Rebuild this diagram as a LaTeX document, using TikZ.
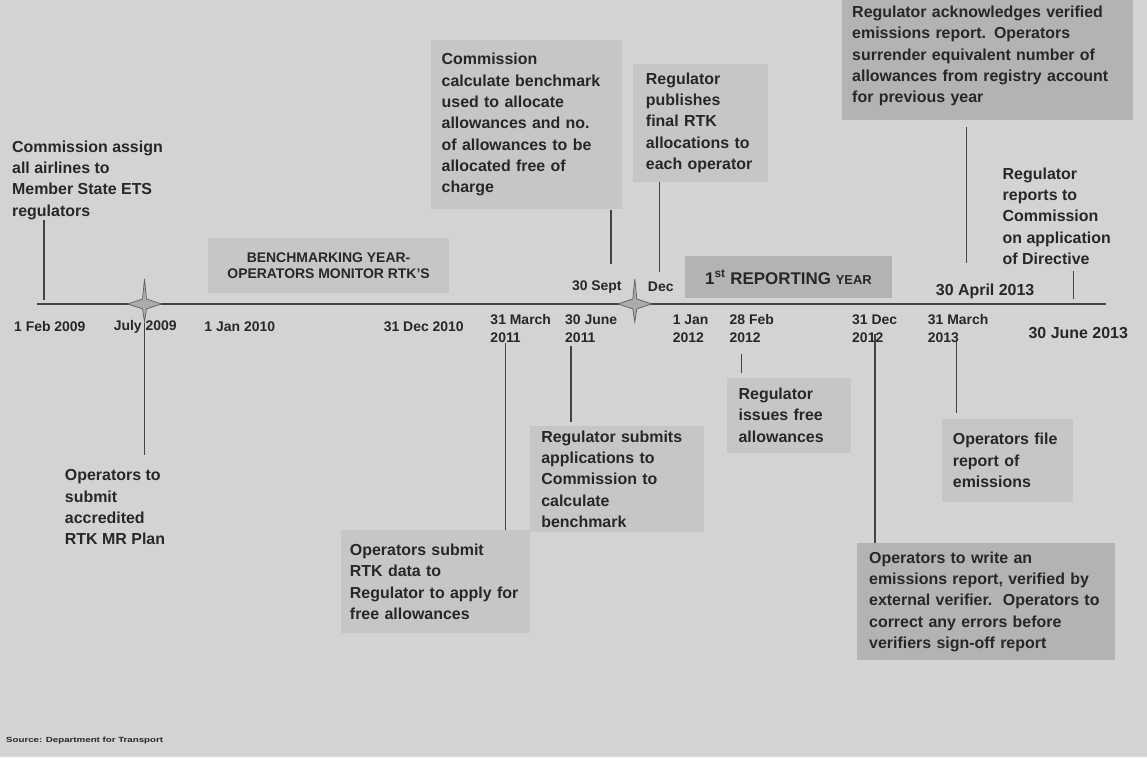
\documentclass[tikz,border=0pt]{standalone}
\usepackage{fontspec}
\setmainfont{Liberation Sans}
\definecolor{bgc}{HTML}{D3D3D1}
\definecolor{boxl}{HTML}{C6C6C4}
\definecolor{boxd}{HTML}{B3B3B1}
\definecolor{txt}{HTML}{272727}
\definecolor{lnc}{HTML}{434343}
\definecolor{starc}{HTML}{ABABA9}
\tikzset{
  fstar/.pic={\filldraw[fill=starc, draw=lnc!85, line width=0.7pt]
    (0,-25) -- (2,-5) -- (17,0) -- (2,5) -- (0,18) -- (-2,5) -- (-17,0) -- (-2,-5) -- cycle;}
}
\begin{document}
\begin{tikzpicture}[x=1pt,y=-1pt,
  every node/.style={text=txt},
  txtf/.style={font=\fontsize{16}{21.4}\selectfont\bfseries},
  evbox/.style={txtf, fill=boxl, anchor=north west, align=left, inner xsep=11pt, inner ysep=0pt},
  evboxd/.style={evbox, fill=boxd},
  plaintext/.style={txtf, anchor=north west, align=left, inner sep=0pt},
  datef/.style={font=\fontsize{14}{18}\selectfont\bfseries, align=left, inner sep=0pt, anchor=west},
  bigdate/.style={font=\fontsize{16}{19}\selectfont\bfseries, inner sep=0pt, anchor=west},
  conn/.style={draw=lnc, line width=1.4pt},
  tline/.style={draw=lnc, line width=2.6pt},
]
\fill[bgc] (-2,-2) rectangle (1149,758);
\useasboundingbox (0,0) rectangle (1147,756);

% timeline
\coordinate (tlA) at (35,303);
\coordinate (tlB) at (1108,303);
\draw[tline] (tlA) -- (tlB);

% period labels
\node[fill=boxl, anchor=north west, minimum width=241pt, minimum height=55pt, inner sep=0pt,
  align=center, font=\fontsize{14}{16}\selectfont\bfseries] (bench) at (207,237)
  {BENCHMARKING YEAR-\\OPERATORS MONITOR RTK'S};
\node[fill=boxd, anchor=north west, minimum width=208pt, minimum height=42pt, inner sep=0pt,
  font=\fontsize{17}{20}\selectfont\bfseries] (rep) at (685,255)
  {1\textsuperscript{st} REPORTING {\fontsize{13}{15}\selectfont YEAR}};

% event boxes
\node[evbox, text width=170pt, minimum height=170pt] (cc) at (430,38)
  {Commission\\calculate benchmark\\used to allocate\\allowances and no.\\of allowances to be\\allocated free of\\charge};
\node[evbox, inner xsep=13pt, text width=109pt, minimum height=118pt] (rp) at (633,62)
  {Regulator\\publishes\\final RTK\\allocations to\\each operator};
\node[evboxd, inner xsep=10pt, text width=272pt, minimum height=128pt] (ra) at (843,-10)
  {Regulator acknowledges verified\\emissions report. Operators\\surrender equivalent number of\\allowances from registry account\\for previous year};
\node[evbox, text width=152pt, minimum height=107pt] (rs) at (530,425)
  {Regulator submits\\applications to\\Commission to\\calculate\\benchmark};
\node[evbox, inner xsep=9pt, text width=172pt, minimum height=103pt] (ors) at (340,530)
  {Operators submit\\RTK data to\\Regulator to apply for\\free allowances};
\node[evbox, inner xsep=12pt, text width=101pt, minimum height=75pt] (rif) at (727,377)
  {Regulator\\issues free\\allowances};
\node[evbox, text width=110pt, minimum height=84pt] (ofr) at (943,418)
  {Operators file\\report of\\emissions};
\node[evboxd, inner xsep=12pt, text width=235pt, minimum height=117pt] (ow) at (858,543)
  {Operators to write an\\emissions report, verified by\\external verifier.\ \ Operators to\\correct any errors before\\verifiers sign-off report};

% plain texts
\node[plaintext] (caa) at (10,139)
  {Commission assign\\all airlines to\\Member State ETS\\regulators};
\node[plaintext] (ots) at (63,469)
  {Operators to\\submit\\accredited\\RTK MR Plan};
\node[plaintext] (rrc) at (1004,166)
  {Regulator\\reports to\\Commission\\on application\\of Directive};

% date labels
\node[datef] (d1) at (12,326) {1 Feb 2009};
\node[datef] (d2) at (112,326) {July 2009};
\node[datef] (d3) at (203,326) {1 Jan 2010};
\node[datef] (d4) at (383,326) {31 Dec 2010};
\node[datef] (d5) at (490,328) {31 March\\2011};
\node[datef] (d6) at (565,328) {30 June\\2011};
\node[datef, anchor=east] (d7) at (622,286) {30 Sept};
\node[datef] (d8) at (648,286) {Dec};
\node[datef] (d9) at (673,328) {1 Jan\\2012};
\node[datef] (d10) at (730,328) {28 Feb\\2012};
\node[datef] (d11) at (853,328) {31 Dec\\2012};
\node[datef] (d12) at (929,328) {31 March\\2013};
\node[bigdate] (d13) at (937,290) {30 April 2013};
\node[bigdate] (d14) at (1030,332) {30 June 2013};

% stars
\pic at (143,303) {fstar};
\pic at (635,303) {fstar};

% connectors
\coordinate (k1) at (42,299);
\draw[conn] (caa.south -| k1) -- (k1);
\coordinate (k2a) at (143,322);
\coordinate (k2b) at (143,455);
\draw[conn] (k2a) -- (k2b);
\coordinate (k3) at (505,342);
\draw[conn] (k3) -- (ors.north -| k3);
\coordinate (k4) at (571,345);
\draw[conn, shorten >=4pt] (k4) -- (rs.north -| k4);
\coordinate (k5) at (611,263);
\draw[conn] (cc.south -| k5) -- (k5);
\coordinate (k6) at (660,271);
\draw[conn] (rp.south -| k6) -- (k6);
\coordinate (k7) at (742,353);
\draw[conn, shorten >=5pt] (k7) -- (rif.north -| k7);
\coordinate (k8) at (876,333);
\draw[conn] (k8) -- (ow.north -| k8);
\coordinate (k9) at (958,333);
\draw[conn, shorten >=6pt] (k9) -- (ofr.north -| k9);
\coordinate (k10) at (968,262);
\draw[conn, shorten <=7pt] (ra.south -| k10) -- (k10);
\coordinate (k11) at (1075,298);
\draw[conn, shorten <=6pt] (rrc.south -| k11) -- (k11);

% source
\node[anchor=west, inner sep=0pt] (src) at (4,741)
  {\scalebox{1.3}[1]{\fontsize{7.5}{9}\selectfont\bfseries Source: Department for Transport}};
\end{tikzpicture}
\end{document}
